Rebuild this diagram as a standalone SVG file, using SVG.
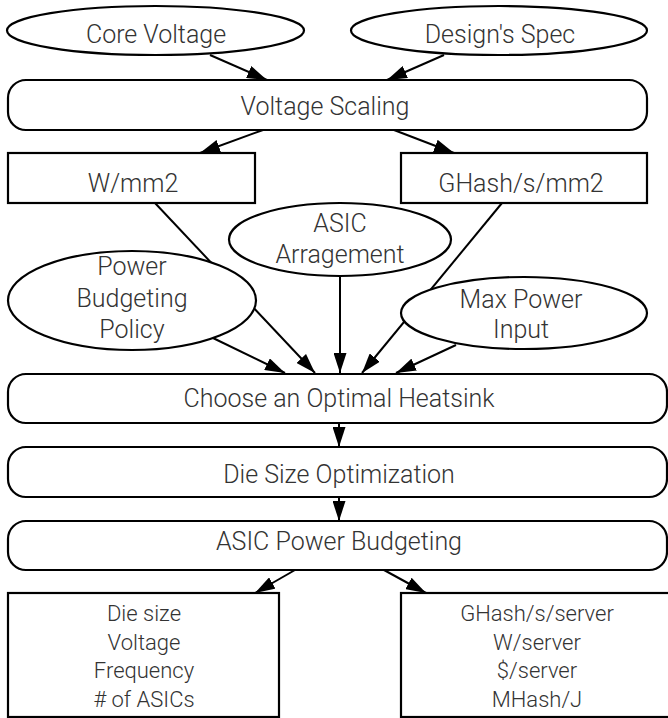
<svg xmlns="http://www.w3.org/2000/svg" width="668" height="718" viewBox="0 0 668 718">
  <defs>
    <marker id="arrow" markerWidth="20" markerHeight="13" refX="20" refY="6.5" orient="auto" markerUnits="userSpaceOnUse">
      <path d="M0,0 L20,6.5 L0,13 z" fill="#000"/>
    </marker>
    <style>
      .shape { fill: #fff; stroke: #000; stroke-width: 2.2; }
      .edge { fill: none; stroke: #000; stroke-width: 2; marker-end: url(#arrow); }
      text { font-family: Roboto, "Liberation Sans", sans-serif; font-weight: 300; fill: #333; text-anchor: middle; }
      .lg { font-size: 25px; }
      .sm { font-size: 22px; }
    </style>
  </defs>

  <!-- connectors, drawn first so node fills sit above them -->
  <g id="connectors">
    <line class="edge" x1="210" y1="55" x2="267" y2="80"/>
    <line class="edge" x1="444" y1="55" x2="387" y2="80"/>
    <line class="edge" x1="263" y1="130" x2="200" y2="153"/>
    <line class="edge" x1="394" y1="130" x2="454" y2="153"/>
    <line class="edge" x1="213" y1="338" x2="285" y2="373"/>
    <line class="edge" x1="155" y1="203" x2="315" y2="373"/>
    <line class="edge" x1="340" y1="276" x2="340" y2="373"/>
    <line class="edge" x1="502" y1="203" x2="362" y2="373"/>
    <line class="edge" x1="456" y1="345" x2="396" y2="373"/>
    <line class="edge" x1="339" y1="423" x2="339" y2="447"/>
    <line class="edge" x1="339" y1="497" x2="339" y2="521"/>
    <line class="edge" x1="295" y1="570" x2="255" y2="593"/>
    <line class="edge" x1="384" y1="570" x2="426" y2="593"/>
  </g>

  <g id="core-voltage">
    <ellipse class="shape" cx="155.5" cy="30.5" rx="148.5" ry="24.5"/>
    <text class="lg" x="156" y="43">Core Voltage</text>
  </g>
  <g id="designs-spec">
    <ellipse class="shape" cx="499" cy="30.5" rx="148" ry="24.5"/>
    <text class="lg" x="500" y="43">Design's Spec</text>
  </g>
  <g id="voltage-scaling">
    <rect class="shape" x="8" y="80" width="639" height="50" rx="18"/>
    <text class="lg" x="325" y="115">Voltage Scaling</text>
  </g>
  <g id="w-mm2">
    <rect class="shape" x="8" y="153" width="247" height="50"/>
    <text class="lg" x="133" y="192">W/mm2</text>
  </g>
  <g id="ghash-mm2">
    <rect class="shape" x="401" y="153" width="246" height="50"/>
    <text class="lg" x="521" y="192">GHash/s/mm2</text>
  </g>
  <g id="asic-arrangement">
    <ellipse class="shape" cx="340" cy="239.5" rx="111" ry="36.5"/>
    <text class="lg" x="340" y="232">ASIC</text>
    <text class="lg" x="340" y="263">Arragement</text>
  </g>
  <g id="power-budgeting-policy">
    <ellipse class="shape" cx="132" cy="300.5" rx="124" ry="49.5"/>
    <text class="lg" x="132" y="275">Power</text>
    <text class="lg" x="132" y="307">Budgeting</text>
    <text class="lg" x="132" y="338">Policy</text>
  </g>
  <g id="max-power-input">
    <ellipse class="shape" cx="524" cy="313" rx="123" ry="36"/>
    <text class="lg" x="521" y="308">Max Power</text>
    <text class="lg" x="521" y="338">Input</text>
  </g>
  <g id="choose-heatsink">
    <rect class="shape" x="8" y="374" width="659" height="49" rx="18"/>
    <text class="lg" x="339" y="407">Choose an Optimal Heatsink</text>
  </g>
  <g id="die-size-optimization">
    <rect class="shape" x="8" y="447" width="659" height="50" rx="18"/>
    <text class="lg" x="339" y="483">Die Size Optimization</text>
  </g>
  <g id="asic-power-budgeting">
    <rect class="shape" x="8" y="521" width="659" height="49" rx="18"/>
    <text class="lg" x="339" y="550">ASIC Power Budgeting</text>
  </g>
  <g id="design-outputs">
    <rect class="shape" x="8" y="593" width="271" height="124"/>
    <text class="sm" x="144" y="621">Die size</text>
    <text class="sm" x="144" y="650">Voltage</text>
    <text class="sm" x="144" y="678">Frequency</text>
    <text class="sm" x="144" y="707"># of ASICs</text>
  </g>
  <g id="server-metrics">
    <rect class="shape" x="401" y="593" width="273" height="124"/>
    <text class="sm" x="537" y="621">GHash/s/server</text>
    <text class="sm" x="537" y="650">W/server</text>
    <text class="sm" x="537" y="678">$/server</text>
    <text class="sm" x="537" y="707">MHash/J</text>
  </g>
</svg>
